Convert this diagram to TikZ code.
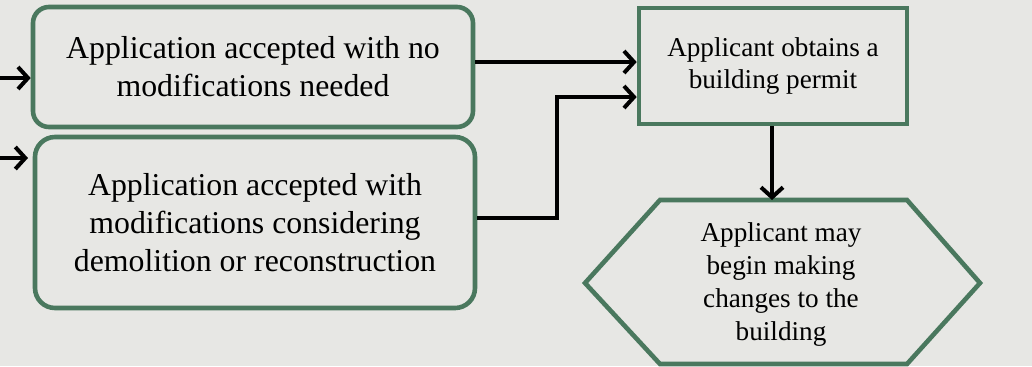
\documentclass[tikz,border=0pt]{standalone}
\usepackage{fontspec}
\setmainfont{Liberation Serif}
\usepackage{tikz}
\usetikzlibrary{arrows.meta}

\definecolor{boxgreen}{RGB}{74,120,94}
\definecolor{paper}{RGB}{231,231,228}

\tikzset{
  roundbox/.style={draw=boxgreen, line width=2.3pt, rounded corners=8pt,
    align=center, inner sep=0pt, font=\fontsize{15.9}{19}\selectfont},
  permitbox/.style={draw=boxgreen, line width=2.3pt, align=center,
    inner sep=0pt, font=\fontsize{13.6}{16}\selectfont},
  flow/.style={line width=2pt, -{Straight Barb[length=5pt,width=11pt]}}
}

\begin{document}
\begin{tikzpicture}[x=0.5pt, y=-0.5pt]
		%----------------------------------------------------
		% Page and frame
		%----------------------------------------------------
		\fill[paper] (0,0) rectangle (1032,366);
		\useasboundingbox (0,0) rectangle (1032,366);
		
		%----------------------------------------------------
		% The two outcomes of the application
		%----------------------------------------------------
		\node[roundbox, minimum width=220pt, minimum height=60pt] (accepted) at (253,67)
			{Application accepted with no\\modifications needed};
		\node[roundbox, rounded corners=10pt, minimum width=220pt, minimum height=85.5pt] (modified) at (255,222.5)
			{Application accepted with\\modifications considering\\demolition or reconstruction};
		
		\node[permitbox, minimum width=134pt, minimum height=58pt] (permit) at (773,66)
			{Applicant obtains a\\building permit};
		
		%----------------------------------------------------
		% Hexagon, the last step
		%----------------------------------------------------
		\coordinate (h1) at (585,283);
		\coordinate (h2) at (660,200);
		\coordinate (h3) at (907,200);
		\coordinate (h4) at (980,283);
		\coordinate (h5) at (907,364);
		\coordinate (h6) at (660,364);
		\draw[boxgreen, line width=2.3pt, line join=miter] (h1) -- (h2) -- (h3) -- (h4) -- (h5) -- (h6) -- cycle;
		\node[align=center, font=\fontsize{13.6}{16.5}\selectfont] (changes) at (781,284)
			{Applicant may\\begin making\\changes to the\\building};
		\coordinate (hextop) at (772,200);
		
		%----------------------------------------------------
		% Connectors
		%----------------------------------------------------
		\coordinate (in1) at (0,78);
		\coordinate (in2) at (0,158);
		\draw[flow] (in1) -- (accepted.west |- in1);
		\draw[flow] (in2) -- (28,158);
		
		\draw[flow] ([yshift=2.5pt]accepted.east) -- ([yshift=2.5pt]accepted.east -| permit.west);
		\draw[flow] ([yshift=2.2pt]modified.east) -- ++(80,0) |- ([yshift=-15.5pt]permit.west);
		\draw[flow] (permit.south -| hextop) -- (hextop);
	\end{tikzpicture}
\end{document}
